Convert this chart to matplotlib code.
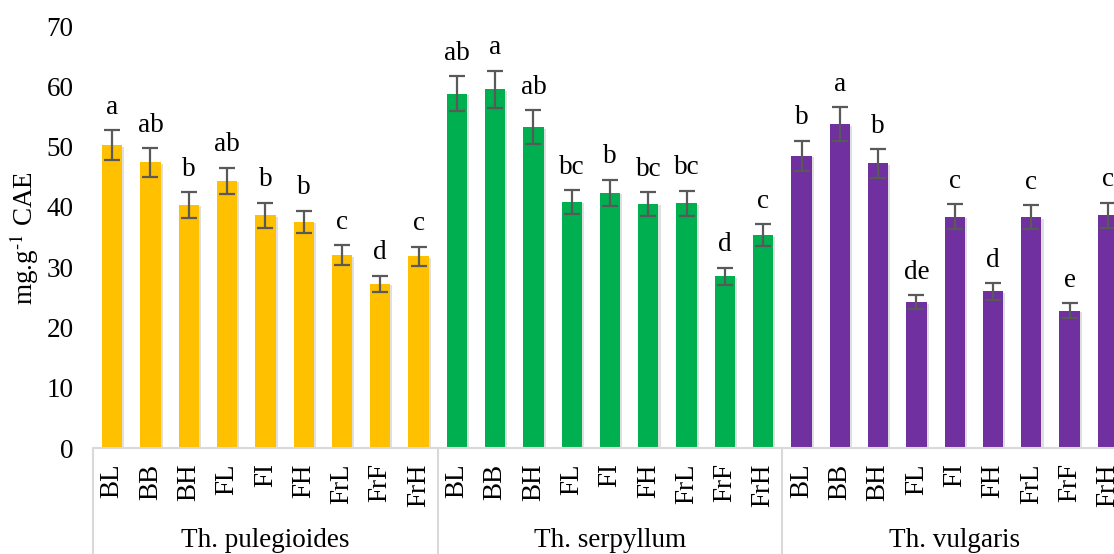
import matplotlib
matplotlib.use("Agg")
import matplotlib.pyplot as plt
import matplotlib.patheffects as pe
import matplotlib.transforms as mtransforms
import numpy as np

plt.rcParams['font.family'] = ['Liberation Serif', 'DejaVu Serif']
plt.rcParams['mathtext.fontset'] = 'stix'

species = ["Th. pulegioides", "Th. serpyllum", "Th. vulgaris"]
parts = ["BL", "BB", "BH", "FL", "FI", "FH", "FrL", "FrF", "FrH"]
colors = ["#FFC000", "#00B050", "#7030A0"]

pulegioides = [50.2, 47.4, 40.3, 44.3, 38.6, 37.5, 32.0, 27.2, 31.8]
pulegioides_err = [2.5, 2.4, 2.1, 2.2, 2.1, 1.9, 1.7, 1.4, 1.6]
pulegioides_sig = ["a", "ab", "b", "ab", "b", "b", "c", "d", "c"]

serpyllum = [58.8, 59.5, 53.2, 40.8, 42.3, 40.5, 40.6, 28.5, 35.3]
serpyllum_err = [2.9, 3.1, 2.8, 2.0, 2.2, 2.0, 2.1, 1.4, 1.8]
serpyllum_sig = ["ab", "a", "ab", "bc", "b", "bc", "bc", "d", "c"]

vulgaris = [48.5, 53.7, 47.2, 24.2, 38.4, 26.0, 38.3, 22.8, 38.6]
vulgaris_err = [2.5, 2.8, 2.4, 1.2, 2.1, 1.4, 2.0, 1.2, 2.1]
vulgaris_sig = ["b", "a", "b", "de", "c", "d", "c", "e", "c"]

values = [pulegioides, serpyllum, vulgaris]
errors = [pulegioides_err, serpyllum_err, vulgaris_err]
sigs = [pulegioides_sig, serpyllum_sig, vulgaris_sig]

fig = plt.figure(figsize=(11.14, 5.54), dpi=100)
# the original chart is cropped on the right, so the axes run past the figure edge
ax = fig.add_axes([0.0835, 0.1913, 0.9282, 0.7617])

n = len(parts)
shadow = [pe.SimplePatchShadow(offset=(1.5, -1), shadow_rgbFace="#808080", alpha=0.25), pe.Normal()]
fs = 19.5

for g in range(3):
    x = np.arange(n) + g * n
    bars = ax.bar(x, values[g], width=0.53, color=colors[g], zorder=2)
    for b in bars:
        b.set_path_effects(shadow)
    ax.errorbar(x, values[g], yerr=errors[g], fmt="none", ecolor="#595959",
                elinewidth=1.6, capsize=5.5, capthick=1.6, zorder=3)
    for xi, v, e, s in zip(x, values[g], errors[g], sigs[g]):
        ax.text(xi, v + e + 2.7, s, ha="center", va="baseline", fontsize=fs)

ax.set_xlim(-0.5, 3 * n - 0.5)
ax.set_ylim(0, 70)
ax.set_yticks(range(0, 71, 10))
ax.set_xticks(range(3 * n))
ax.set_xticklabels(parts * 3, rotation=90, fontsize=fs)
ax.tick_params(axis="x", length=0, pad=11)
ax.tick_params(axis="y", length=0, pad=14, labelsize=fs)
for side in ["left", "right", "top"]:
    ax.spines[side].set_visible(False)
ax.spines["bottom"].set_color("#D9D9D9")
ax.spines["bottom"].set_linewidth(1.5)

trans = mtransforms.blended_transform_factory(ax.transData, ax.transAxes)
for g in range(4):
    xs = g * n - 0.5
    ax.plot([xs, xs], [0, -0.4], color="#D9D9D9", lw=1.5, transform=trans, clip_on=False)
for g in range(3):
    ax.text(g * n + (n - 1) / 2, -0.218, species[g], ha="center", va="center",
            fontsize=fs, transform=trans)

fig.text(24 / 1114, 0.5 + (554 / 2 - 238) / 554, r"mg.g$^{\text{-1}}$ CAE", rotation=90,
         ha="center", va="center", fontsize=fs)

fig.savefig("out.png", dpi=100)
